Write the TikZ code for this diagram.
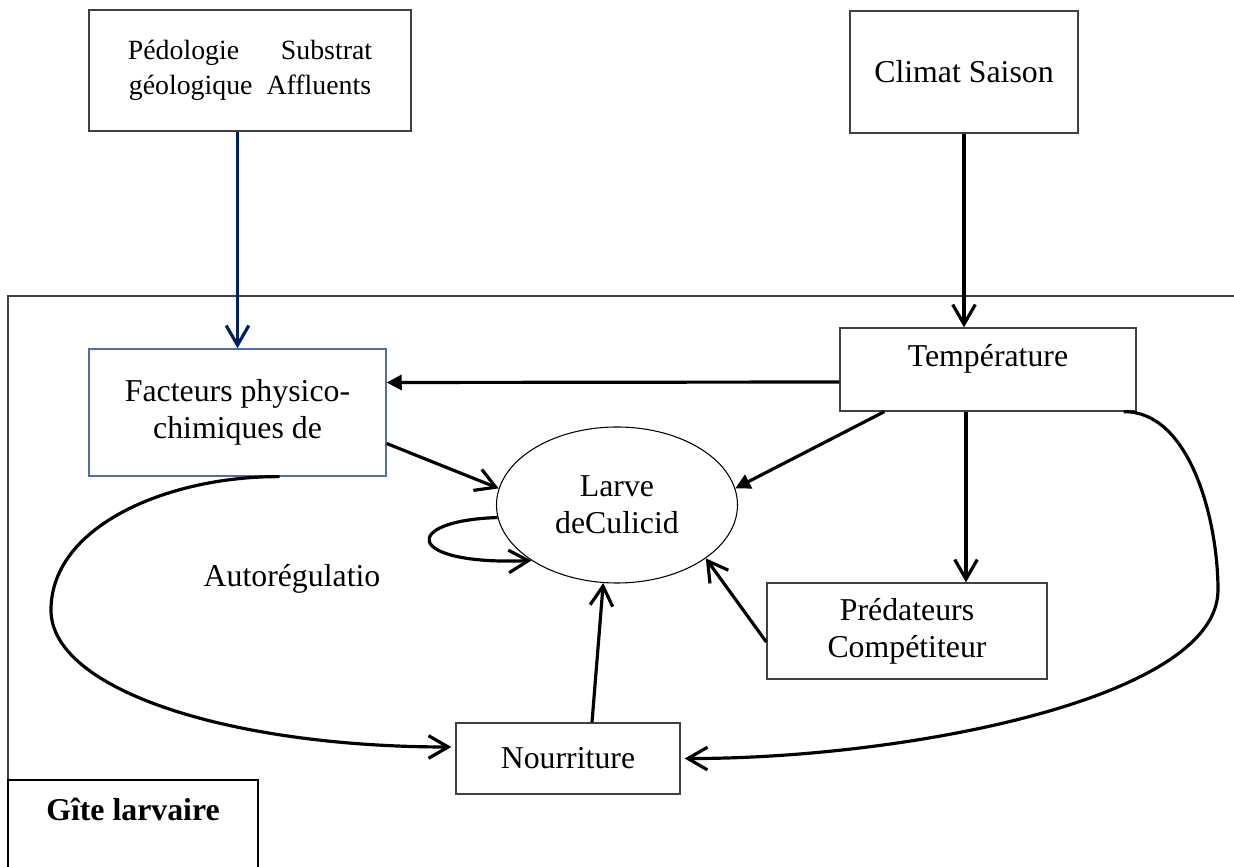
\documentclass[tikz,border=0pt]{standalone}
\usepackage{fontspec}
\setmainfont{Liberation Serif}
\usepackage{tikz}
\usetikzlibrary{shapes.geometric, arrows.meta, calc}
\definecolor{navyline}{HTML}{002060}
\definecolor{boxblue}{HTML}{4F6FA8}
\definecolor{boxgray}{HTML}{404040}
\newcommand{\pxu}{0.01326cm}

\begin{document}
\begin{tikzpicture}[x=\pxu, y=-\pxu,
  every node/.style={font=\fontsize{12}{14}\selectfont},
  box/.style={draw=boxgray, line width=0.5pt, align=center, inner sep=0pt},
  larvanode/.style={draw, ellipse, line width=0.4pt, align=center, inner sep=0pt},
  link/.style={-{Straight Barb[length=0.26cm, width=0.3cm]}, line width=1.2pt},
  push/.style={-{Triangle[length=0.2cm, width=0.2cm]}, line width=1.2pt}
]
\useasboundingbox (0,0) rectangle (1234,867);

% Frame of the breeding site
\draw[boxgray, line width=0.5pt] (1234,296) -| (8,867);
\draw[line width=0.5pt] (8,867) |- (258,780) -- (258,867);
\node (gite) at (133,809) {\bfseries Gîte larvaire};

% Boxes
\node[box, minimum width=322*\pxu, minimum height=121*\pxu, font=\fontsize{10.5}{13}\selectfont] (sol) at (250,70.5)
  {Pédologie\hspace{1.5em}Substrat\\géologique~~Affluents};
\node[box, minimum width=228*\pxu, minimum height=122*\pxu] (clim) at (964,72) {Climat Saison};
\node[box, minimum width=296*\pxu, minimum height=83*\pxu, text depth=10.5pt] (temp) at (988,369.5) {Température};
\node[box, draw=boxblue, minimum width=297*\pxu, minimum height=127*\pxu] (fact) at (237.5,412.5)
  {Facteurs physico-\\chimiques de};
\node[larvanode, minimum width=241*\pxu, minimum height=156*\pxu] (larve) at (617,505) {Larve\\deCulicid};
\node[box, minimum width=280*\pxu, minimum height=96*\pxu] (pred) at (907,631) {Prédateurs\\Compétiteur};
\node[box, minimum width=224*\pxu, minimum height=71*\pxu] (nour) at (568,758.5) {Nourriture};
\node (auto) at (292,579) {Autorégulatio};

% Arrows
\draw[link, navyline] (sol.south -| fact.north) -- (fact.north);
\draw[link] (clim.south) -- (clim.south |- temp.north);
\draw[push] ($(temp.west)+(0,12.5)$) -- ($(fact.east)+(0,-30)$);
\draw[link] ($(fact.east)+(0,31)$) -- (larve.172);
\draw[push] ($(temp.south west)+(45,0)$) -- (larve.8);
\coordinate (tp) at ($(temp.south)+(-22,0)$);
\draw[link] (tp) -- (tp |- pred.north);
\draw[link] ($(pred.west)+(0,11)$) -- (larve.-31);
\draw[link] ($(nour.north)+(24,0)$) -- (larve.-100);
\draw[link] (larve.186) .. controls +(-97,3) and +(-128,5) .. (larve.213);

% Long loops
\draw[link] ($(fact.south)+(42,0)$) .. controls (170,476) and (51,525) .. (51,610)
  .. controls (51,690) and (230,747) .. ($(nour.west)+(-4,-11.5)$);
\draw[link] ($(temp.south east)+(-13,0)$) .. controls (1190,411) and (1218,520) .. (1218,590)
  .. controls (1218,700) and (900,759) .. ($(nour.east)+(4,0)$);

\end{tikzpicture}
\end{document}
